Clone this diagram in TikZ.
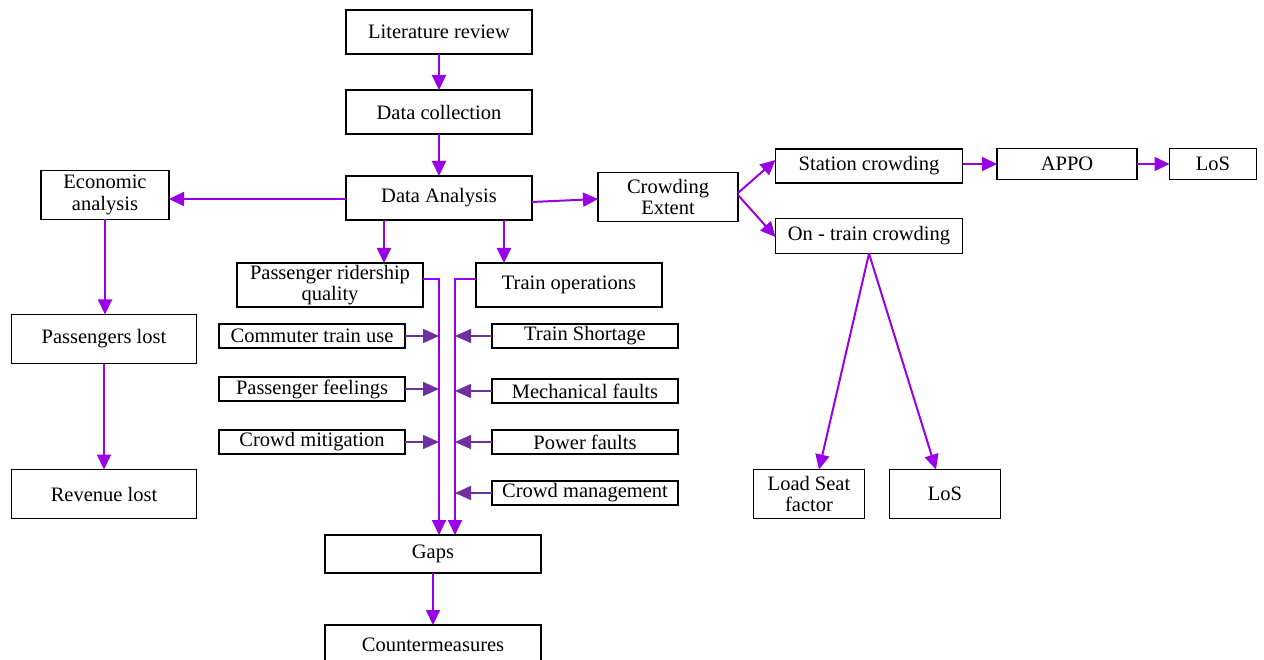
\documentclass[tikz,border=0pt]{standalone}
\usepackage{fontspec}
\setmainfont{Liberation Serif}
\usetikzlibrary{arrows.meta}
\definecolor{mainpurple}{RGB}{153,0,230}
\definecolor{darkpurple}{RGB}{112,48,160}
\begin{document}
\begin{tikzpicture}[x=1pt,y=-1pt,
  box/.style={draw, line width=1.3pt, inner sep=0pt, outer sep=0pt, align=center,
    font=\fontsize{20.5}{21.5}\selectfont},
  arr/.style={draw=mainpurple, line width=2pt, -{Triangle[length=15pt,width=14pt]}},
  arrtwo/.style={draw=darkpurple, line width=1.6pt, -{Triangle[length=16pt,width=14pt]}}]
\useasboundingbox (0,0) rectangle (1264,660);
% main column
\node[box, minimum width=186pt, minimum height=44pt] (lit) at (439,32) {Literature review};
\node[box, minimum width=186pt, minimum height=44pt] (dc) at (439,112) {Data collection};
\node[box, minimum width=186pt, minimum height=44pt] (da) at (439,198) {Data Analysis};
\node[box, minimum width=128pt, minimum height=49pt] (econ) at (105,195) {Economic\\analysis};
\node[box, minimum width=140pt, minimum height=49pt] (ce) at (668,197) {Crowding\\Extent};
\node[box, minimum width=187pt, minimum height=34pt] (sc) at (869,166) {Station crowding};
\node[box, minimum width=140pt, minimum height=31pt] (appo) at (1067,164) {APPO};
\node[box, minimum width=87pt, minimum height=31pt] (losa) at (1213,164) {LoS};
\node[box, minimum width=187pt, minimum height=35pt] (otc) at (869,236) {On - train crowding};
\node[box, minimum width=186pt, minimum height=44pt] (prq) at (330,285) {Passenger ridership\\quality};
\node[box, minimum width=186pt, minimum height=44pt] (to) at (569,285) {Train operations};
\node[box, minimum width=186pt, minimum height=24pt] (ctu) at (312,336) {Commuter train use};
\node[box, minimum width=186pt, minimum height=24pt] (pf) at (312,389) {Passenger feelings};
\node[box, minimum width=186pt, minimum height=24pt] (cmi) at (312,442) {Crowd mitigation};
\node[box, minimum width=186pt, minimum height=24pt] (ts) at (585,336) {Train Shortage};
\node[box, minimum width=186pt, minimum height=24pt] (mf) at (585,391) {Mechanical faults};
\node[box, minimum width=186pt, minimum height=24pt] (pwf) at (585,442) {Power faults};
\node[box, minimum width=186pt, minimum height=24pt] (cmg) at (585,493) {Crowd management};
\node[box, minimum width=185pt, minimum height=49pt] (pl) at (104,339) {Passengers lost};
\node[box, minimum width=185pt, minimum height=49pt] (rl) at (104,494) {Revenue lost};
\node[box, minimum width=216pt, minimum height=38pt] (gaps) at (433,554) {Gaps};
\node[box, minimum width=216pt, minimum height=40pt] (cm) at (433,645) {Countermeasures};
\node[box, minimum width=111pt, minimum height=49pt] (lsf) at (809,494) {Load Seat\\factor};
\node[box, minimum width=111pt, minimum height=49pt] (losb) at (945,494) {LoS};
\coordinate (vL) at (439,300);
\coordinate (vR) at (455,300);
% connectors
\draw[arr] (lit) -- (dc);
\draw[arr] (dc) -- (da);
\draw[arr] ([yshift=-1pt]da.west) -- ([yshift=-1pt]da.west -| econ.east);
\draw[arr] ([yshift=-4pt]da.east) -- ([yshift=-2pt]ce.west);
\draw[arr] ([xshift=-55pt]da.south) -- ([xshift=-55pt]da.south |- prq.north);
\draw[arr] ([xshift=65pt]da.south) -- ([xshift=65pt]da.south |- to.north);
\draw[arr] (econ.south) -- (econ.south |- pl.north);
\draw[arr] (pl) -- (rl);
\draw[arr] ([yshift=4pt]ce.east) -- ([yshift=6pt]sc.west);
\draw[arr] ([yshift=2pt]ce.east) -- ([yshift=-1pt]otc.west);
\draw[arr] (sc.east |- appo.west) -- (appo.west);
\draw[arr] (appo) -- (losa);
\draw[arr] (otc.south) -- ([xshift=10pt]lsf.north);
\draw[arr] (otc.south) -- ([xshift=-9pt]losb.north);
\draw[arr] ([yshift=6pt]prq.east) -| ([xshift=6pt]gaps.north);
\draw[arr] ([yshift=6pt]to.west) -| ([xshift=22pt]gaps.north);
\draw[arr] (gaps) -- (cm);
\draw[arrtwo] (ctu.east) -- (ctu.east -| vL);
\draw[arrtwo] (pf.east) -- (pf.east -| vL);
\draw[arrtwo] (cmi.east) -- (cmi.east -| vL);
\draw[arrtwo] (ts.west) -- (ts.west -| vR);
\draw[arrtwo] (mf.west) -- (mf.west -| vR);
\draw[arrtwo] (pwf.west) -- (pwf.west -| vR);
\draw[arrtwo] (cmg.west) -- (cmg.west -| vR);
\end{tikzpicture}
\end{document}
